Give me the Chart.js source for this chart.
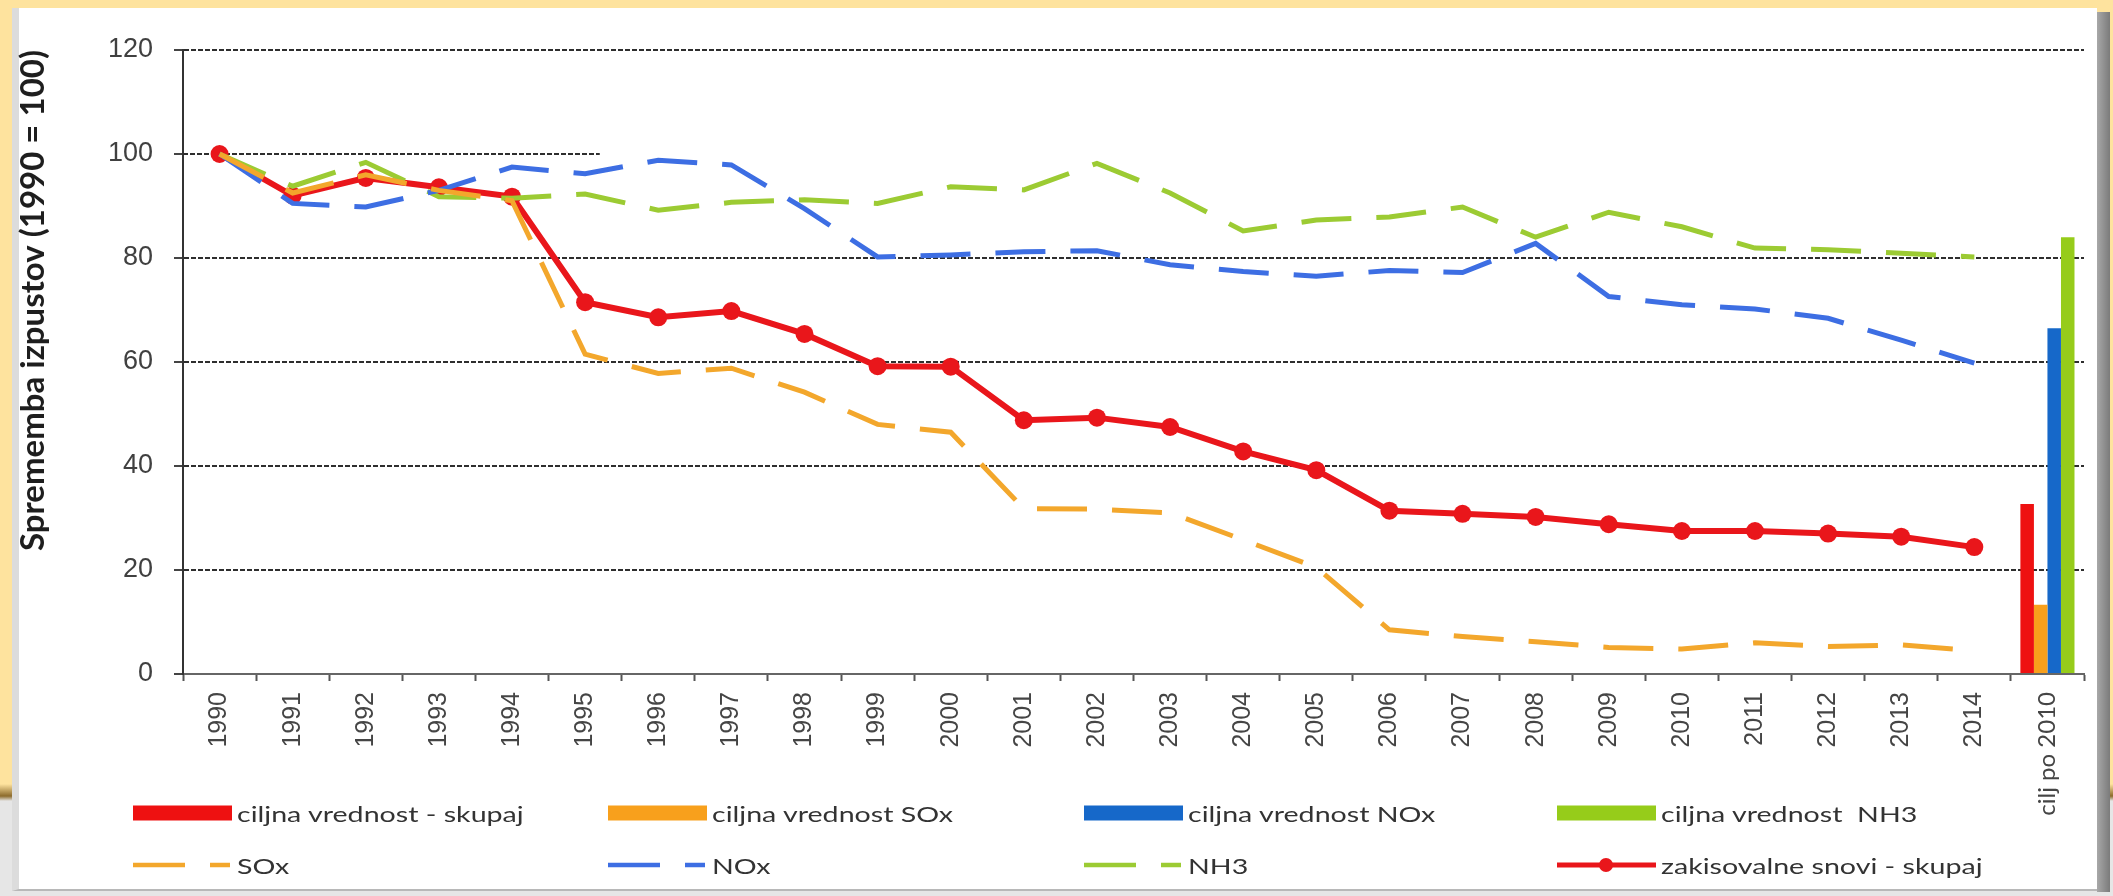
<!DOCTYPE html>
<html>
<head>
<meta charset="utf-8">
<title>Spremembe izpustov zakisovalnih snovi</title>
<script src="https://cdn.jsdelivr.net/npm/chart.js@4.4.1/dist/chart.umd.min.js"></script>
<style>
  html, body { margin: 0; padding: 0; }
  body {
    width: 2113px; height: 896px; overflow: hidden; position: relative;
    background: linear-gradient(to bottom, #fee39e 0, #fee39e 784px, #8c6b2c 796px, #e6e6e6 801px, #e6e6e6 100%);
    font-family: Lato, "Open Sans", sans-serif;
  }
  #panel {
    position: absolute; left: 12px; top: 8px; width: 2085px; height: 883px;
    background: #fff; border-left: 7px solid #dcdcdc; box-sizing: border-box;
    border-bottom: 2px solid #b8b8b8;
  }
  #shade {
    position: absolute; left: 2097px; top: 12px; width: 13px; height: 880px;
    background: linear-gradient(to right, #a8a8a8, #7b7b7b);
  }
  #chart { position: absolute; left: 0; top: 0; }
  #legend { position: absolute; left: 0; top: 0; width: 2113px; height: 896px; pointer-events: none; }
  .item { position: absolute; display: flex; align-items: center; height: 30px; }
  .item span {
    font-size: 22px; color: #333; margin-left: 5px; white-space: pre;
    display: inline-block; transform: scaleX(1.3); transform-origin: left center;
  }
</style>
</head>
<body>
<div id="panel"></div>
<div id="shade"></div>
<canvas id="chart" width="2113" height="896"></canvas>
<div id="legend"></div>
<script>
// categories
const years = ['1990', '1991', '1992', '1993', '1994', '1995', '1996', '1997', '1998', '1999',
  '2000', '2001', '2002', '2003', '2004', '2005', '2006', '2007', '2008', '2009',
  '2010', '2011', '2012', '2013', '2014'];
const targetCategory = 'cilj po 2010';
const categories = [...years, targetCategory];

// index 1990 = 100
const skupaj = [100, 92, 95.4, 93.6, 91.8, 71.5, 68.6, 69.8, 65.4, 59.2, 59.1, 48.8, 49.3, 47.5, 42.8, 39.2,
  31.4, 30.8, 30.2, 28.8, 27.5, 27.5, 27.0, 26.4, 24.4];
const sox = [100, 92.5, 96, 93, 91, 61.5, 57.8, 58.8, 54.2, 48, 46.5, 31.8, 31.7, 31, 25.8, 20.5,
  8.5, 7.2, 6.2, 5.1, 4.8, 6.0, 5.3, 5.6, 4.5];
const nox = [100, 90.5, 89.8, 93, 97.5, 96.2, 98.8, 97.9, 89.5, 80.2, 80.6, 81.2, 81.4, 78.7, 77.4, 76.5,
  77.6, 77.2, 82.8, 72.6, 71, 70.2, 68.4, 64.2, 59.8];
const nh3 = [100, 93.8, 98.4, 91.8, 91.5, 92.3, 89.2, 90.7, 91.2, 90.5, 93.7, 93.1, 98.2, 92.5, 85.2, 87.3,
  87.9, 89.8, 84, 88.8, 86, 81.9, 81.6, 80.9, 80.2];

// target values (ciljna vrednost) shown in the last category
const targetNames = ['ciljna vrednost - skupaj', 'ciljna vrednost SOx', 'ciljna vrednost NOx', 'ciljna vrednost  NH3'];
const targetValues = [32.7, 13.3, 66.5, 84];
const targetColors = ['#ee1111', '#f8a01c', '#1668c9', '#96cc1a'];

const yTicks = [0, 20, 40, 60, 80, 100, 120];

const gridColor = '#2e2e2e';

function onlyLast(v) {
  return categories.map((c, i) => i === categories.length - 1 ? v : null);
}

const barSets = targetNames.map((name, i) => ({
  type: 'bar',
  label: name,
  data: onlyLast(targetValues[i]),
  backgroundColor: targetColors[i],
  categoryPercentage: 0.74,
  barPercentage: 1.0,
  order: 5
}));

const lineSets = [
  { label: 'SOx', data: sox, borderColor: '#f3a72c', borderDash: [50, 25] },
  { label: 'NOx', data: nox, borderColor: '#3d6ee3', borderDash: [50, 25] },
  { label: 'NH3', data: nh3, borderColor: '#9ccb33', borderDash: [50, 25] },
  { label: 'zakisovalne snovi - skupaj', data: skupaj, borderColor: '#e9161b', marker: true }
].map(d => ({
  type: 'line',
  label: d.label,
  data: d.data,
  borderColor: d.borderColor,
  backgroundColor: d.borderColor,
  borderWidth: d.marker ? 6 : 5,
  borderDash: d.borderDash || [],
  pointRadius: d.marker ? 9 : 0,
  pointHoverRadius: d.marker ? 9 : 0,
  pointBackgroundColor: d.borderColor,
  pointBorderWidth: 0,
  tension: 0,
  fill: false,
  order: 1
}));

// the 100 gridline only runs part way in the original
const partialGrid = {
  id: 'partialGrid',
  beforeDatasetsDraw(chart) {
    const { ctx, chartArea, scales: { x, y } } = chart;
    const yy = Math.round(y.getPixelForValue(100));
    const xEnd = x.getPixelForValue(5) + x.width / categories.length * 0.2;
    ctx.save();
    ctx.strokeStyle = gridColor;
    ctx.lineWidth = 2;
    ctx.setLineDash([5, 2]);
    ctx.beginPath();
    ctx.moveTo(chartArea.left, yy);
    ctx.lineTo(xEnd, yy);
    ctx.stroke();
    ctx.restore();
  }
};

const chart = new Chart(document.getElementById('chart'), {
  data: {
    labels: categories,
    datasets: [...barSets, ...lineSets]
  },
  options: {
    responsive: false,
    animation: false,
    layout: { padding: { left: 0, top: 50, right: 29, bottom: 0 } },
    plugins: { legend: { display: false }, tooltip: { enabled: false } },
    scales: {
      x: {
        offset: true,
        afterFit(axis) { axis.height = 222; },
        grid: { drawOnChartArea: false, offset: true, tickLength: 7, tickColor: '#555', tickWidth: 2 },
        border: { color: '#666', width: 2 },
        ticks: {
          autoSkip: false, minRotation: 90, maxRotation: 90, padding: 11, color: '#454545',
          font: ctx => ctx.index === categories.length - 1
            ? { family: 'Lato', size: 24 }
            : { family: 'Liberation Sans', size: 25 }
        }
      },
      y: {
        min: 0, max: 120,
        afterFit(axis) { axis.width = 183; },
        afterBuildTicks(axis) { axis.ticks = yTicks.map(v => ({ value: v })); },
        grid: {
          color: ctx => ctx.tick && ctx.tick.value === 100 ? 'rgba(0,0,0,0)' : gridColor,
          lineWidth: 2, tickLength: 9, tickColor: '#444', tickWidth: 2, tickBorderDash: []
        },
        border: { color: '#333', width: 2, dash: [5, 2] },
        ticks: { padding: 21, color: '#404040', font: { family: 'Liberation Sans', size: 27 } },
        title: {
          display: true, text: 'Sprememba izpustov (1990 = 100)', align: 'end',
          color: '#1e1e1e', padding: { top: 14, bottom: 0 },
          font: { family: 'Lato', size: 33, weight: 'bold' }
        }
      }
    }
  },
  plugins: [partialGrid]
});

// legend in a 4 column grid, like the original
const legendCols = [133, 608, 1084, 1557];
const legendRows = [813, 865];
const legendEl = document.getElementById('legend');

function swatchSvg(ds) {
  const c = ds.borderColor || ds.backgroundColor;
  if (ds.type === 'bar') {
    return `<svg width="99" height="16"><rect x="0" y="0.5" width="99" height="15" fill="${ds.backgroundColor}"/></svg>`;
  }
  if (ds.borderDash && ds.borderDash.length) {
    return `<svg width="99" height="16"><line x1="0" y1="8" x2="52" y2="8" stroke="${c}" stroke-width="4.5"/>` +
      `<line x1="77" y1="8" x2="97" y2="8" stroke="${c}" stroke-width="4.5"/></svg>`;
  }
  return `<svg width="99" height="18"><line x1="0" y1="9" x2="99" y2="9" stroke="${c}" stroke-width="5"/>` +
    `<circle cx="49" cy="9" r="7" fill="${c}"/></svg>`;
}

chart.data.datasets.forEach((ds, i) => {
  const el = document.createElement('div');
  el.className = 'item';
  el.style.left = legendCols[i % 4] + 'px';
  el.style.top = (legendRows[Math.floor(i / 4)] - 15) + 'px';
  el.innerHTML = swatchSvg(ds) + `<span>${ds.label}</span>`;
  legendEl.appendChild(el);
});
</script>
</body>
</html>
